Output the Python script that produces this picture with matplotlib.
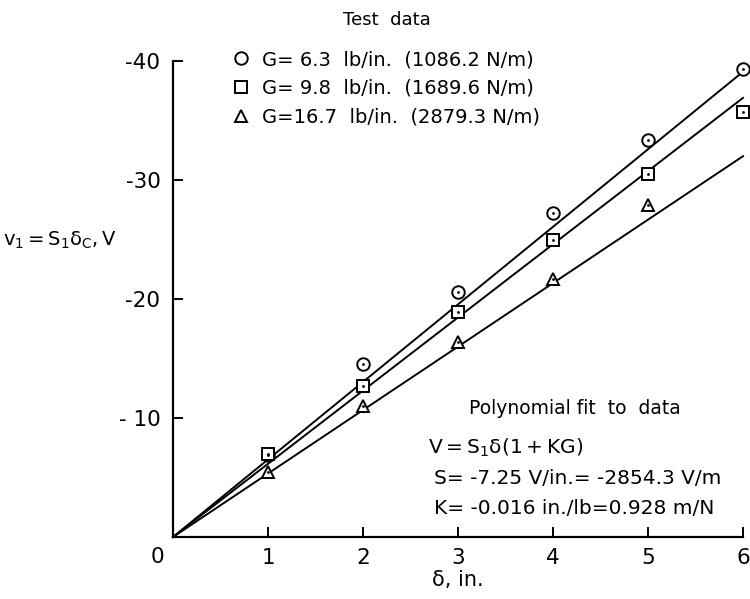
import numpy as np
import matplotlib
matplotlib.use("Agg")
import matplotlib.pyplot as plt

plt.rcParams['font.family'] = ['DejaVu Sans']
plt.rcParams['mathtext.fontset'] = 'dejavusans'

# test data, delta in inches and V
delta = np.array([1, 2, 3, 4, 5, 6])
v_g63 = np.array([-6.9, -14.5, -20.6, -27.2, -33.4, -39.3])
v_g98 = np.array([-7.0, -12.7, -18.9, -25.0, -30.5, -35.7])
v_g167 = np.array([-5.5, -11.0, -16.4, -21.7, -27.9])
delta_g167 = np.array([1, 2, 3, 4, 5])

# polynomial fit lines (end points)
fit_x = np.array([0, 6])
fit_g63 = np.array([0, -39.1])
fit_g98 = np.array([0, -36.9])
fit_g167 = np.array([0, -32.0])

labels = ['G= 6.3  lb/in.  (1086.2 N/m)',
          'G= 9.8  lb/in.  (1689.6 N/m)',
          'G=16.7  lb/in.  (2879.3 N/m)']

W, H = 750, 599
fig = plt.figure(figsize=(7.5, 5.99), dpi=100)
ax = fig.add_axes([173/W, 1-537/H, (743-173)/W, (537-61)/H])

for fy in (fit_g63, fit_g98, fit_g167):
    ax.plot(fit_x, fy, 'k-', lw=1.4, clip_on=False)

mk = dict(linestyle='none', mfc='white', mec='black', mew=1.4, ms=9, clip_on=False, zorder=3)
h1, = ax.plot(delta, v_g63, marker='o', label=labels[0], **mk)
h2, = ax.plot(delta, v_g98, marker='s', label=labels[1], **mk)
h3, = ax.plot(delta_g167, v_g167, marker='^', label=labels[2], **mk)
for xx, yy in ((delta, v_g63), (delta, v_g98), (delta_g167, v_g167)):
    ax.plot(xx, yy, 'k.', ms=2, clip_on=False, zorder=4)

ax.set_xlim(0, 6)
ax.set_ylim(0, -40)
ax.set_xticks([1, 2, 3, 4, 5, 6])
ax.set_xticklabels(['1', '2', '3', '4', '5', '6'])
ax.set_yticks([-40, -30, -20, -10])
ax.set_yticklabels(['-40', '-30', '-20', '- 10'])
ax.tick_params(direction='in', length=7, width=1.4, labelsize=15.5)
ax.tick_params(axis='x', pad=8)
ax.tick_params(axis='y', pad=9)
for s in ('top', 'right'):
    ax.spines[s].set_visible(False)
for s in ('left', 'bottom'):
    ax.spines[s].set_linewidth(1.6)

fig.text(157/W, 1-557/H, '0', fontsize=15.5, ha='center', va='center')
ax.set_xlabel('δ, in.', fontsize=15, labelpad=1)
fig.text(3/W, 1-240/H, r'$\mathrm{v_1 = S_1δ_C, V}$', fontsize=14, ha='left', va='center')

fig.text(387/W, 1-20/H, 'Test  data', fontsize=13, ha='center', va='center')
leg = fig.legend(handles=[h1, h2, h3], loc='upper left', bbox_to_anchor=(231/W, 1-50/H),
                 frameon=False, fontsize=14, borderaxespad=0, borderpad=0,
                 handlelength=1.0, handletextpad=0.6, labelspacing=0.5)

ax.text(469/W, 1-408/H, 'Polynomial fit  to  data', transform=fig.transFigure,
        fontsize=13.5, va='center')
ax.text(428/W, 1-448/H, r'$\mathrm{V = S_1δ(1+KG)}$', transform=fig.transFigure,
        fontsize=14.5, va='center')
ax.text(434/W, 1-478/H, 'S= -7.25 V/in.= -2854.3 V/m', transform=fig.transFigure,
        fontsize=14.5, va='center')
ax.text(434/W, 1-508/H, 'K= -0.016 in./lb=0.928 m/N', transform=fig.transFigure,
        fontsize=14.5, va='center')

fig.savefig('out.png', dpi=100)
